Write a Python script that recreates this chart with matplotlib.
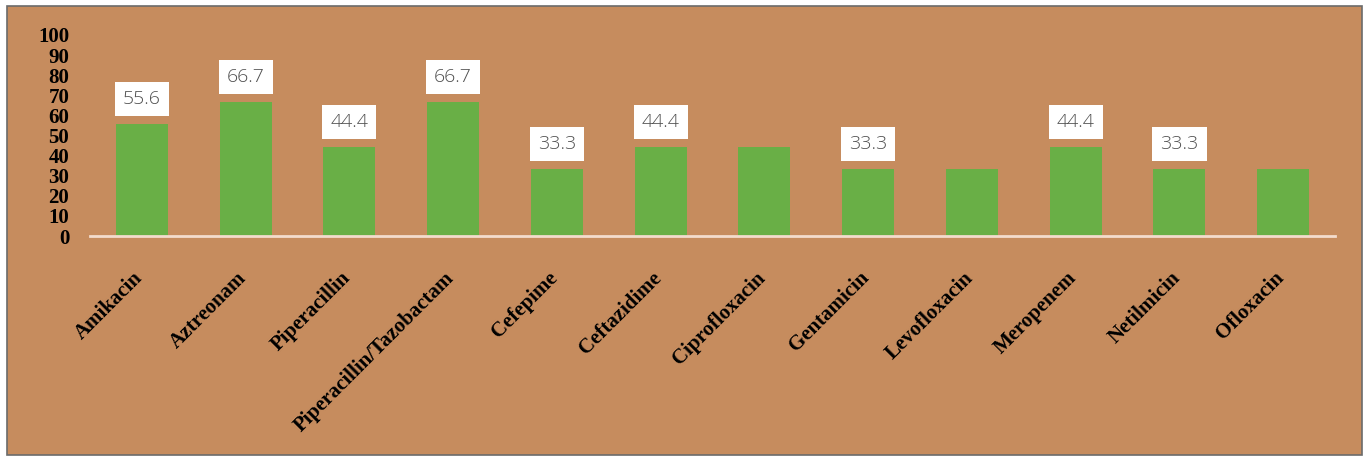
import matplotlib.pyplot as plt
import matplotlib.transforms as mtransforms
from matplotlib.patches import Rectangle

drugs = ["Amikacin", "Aztreonam", "Piperacillin", "Piperacillin/Tazobactam",
         "Cefepime", "Ceftazidime", "Ciprofloxacin", "Gentamicin",
         "Levofloxacin", "Meropenem", "Netilmicin", "Ofloxacin"]
values = [55.6, 66.7, 44.4, 66.7, 33.3, 44.4, 44.4, 33.3, 33.3, 44.4, 33.3, 33.3]
# only some bars carry a value box in the original
labelled = [True, True, True, True, True, True, False, True, False, True, True, False]

W, H = 1369, 461
fig = plt.figure(figsize=(W / 100, H / 100), dpi=100)
fig.patch.set_facecolor("white")

wood = "#c68c5e"
fig.add_artist(Rectangle((7 / W, 6 / H), 1355 / W, 449 / H, transform=fig.transFigure,
                         facecolor=wood, edgecolor="#6b6b6b", linewidth=1.2, zorder=0))

ax = fig.add_axes([90 / W, (H - 236) / H, 1245 / W, 201 / H])
ax.set_facecolor("none")

x = range(len(drugs))
ax.bar(x, values, width=0.5, color="#69af46", zorder=2)

for i, v in enumerate(values):
    if labelled[i]:
        ax.annotate(f"{v}", (i, v), xytext=(0, 18), textcoords="offset points",
                    ha="center", va="center", fontsize=14, color="#505050",
                    family="Open Sans", fontweight="light",
                    bbox=dict(boxstyle="square,pad=0.42", fc="white", ec="none"))

ax.set_xlim(-0.5, len(drugs) - 0.5)
ax.set_ylim(0, 100)
ax.set_yticks(range(0, 101, 10))
ax.set_xticks(list(x))
ax.set_xticklabels([])

# slanted drug names, ends sitting just under the bar centres
shift = mtransforms.ScaledTranslation(-9 / 100, -32 / 100, fig.dpi_scale_trans)
for i, name in enumerate(drugs):
    ax.text(i, 0, name, transform=ax.get_xaxis_transform() + shift,
            rotation=45, ha="right", va="top", rotation_mode="anchor",
            fontsize=15, fontweight="bold", family="Liberation Serif", color="black")

for lab in ax.get_yticklabels():
    lab.set_fontfamily("Liberation Serif")
    lab.set_fontweight("bold")
    lab.set_fontsize(15)
ax.tick_params(axis="y", length=0, pad=15)
ax.tick_params(axis="x", length=0)

for s in ["top", "right", "left"]:
    ax.spines[s].set_visible(False)
ax.spines["bottom"].set_color("#f3dccd")
ax.spines["bottom"].set_linewidth(2)
ax.spines["bottom"].set_zorder(3)

fig.savefig("out.png", dpi=100)
